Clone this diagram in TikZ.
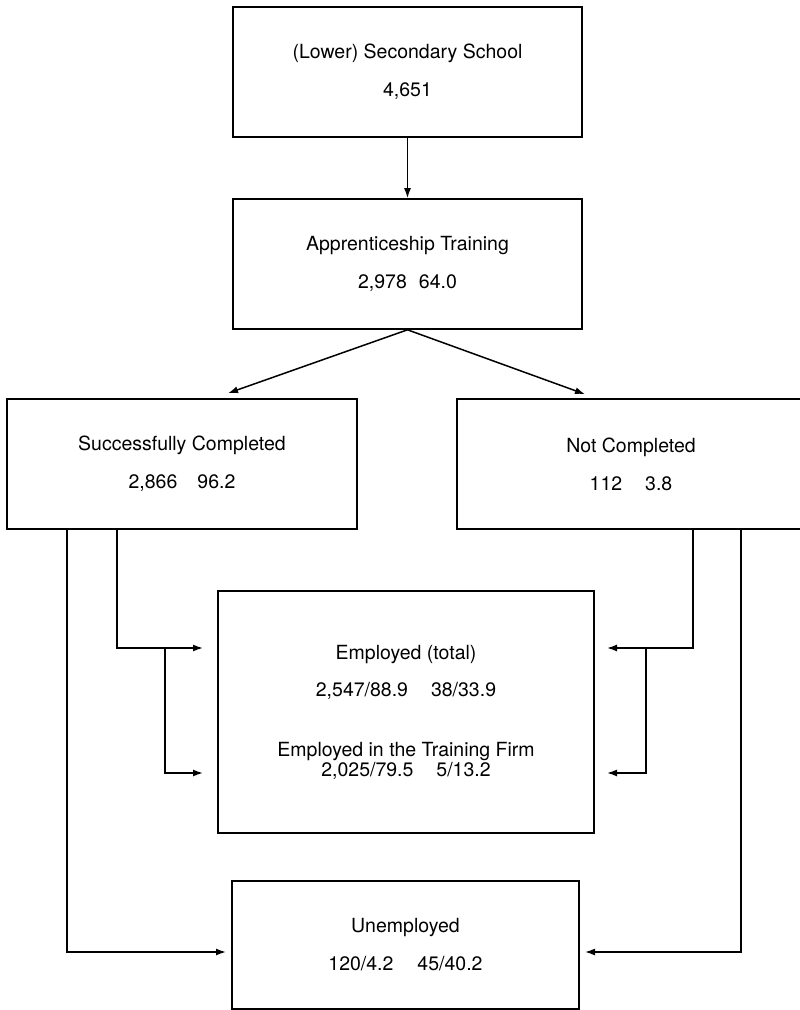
\documentclass[tikz,border=0pt]{standalone}
\usepackage{fontspec}
\setmainfont{TeX Gyre Heros}
\usetikzlibrary{arrows.meta}

\begin{document}
\begin{tikzpicture}[
  x=1pt,
  y=-1pt,
  every node/.style={font=\fontsize{19.5}{20}\selectfont},
  stagebox/.style={draw, line width=1.6pt, align=center, inner sep=0pt},
  flow/.style={line width=1.5pt, -{Latex[length=10pt,width=7pt]}},
  feed/.style={line width=1.5pt}
]
  \useasboundingbox (0,0) rectangle (800,1010);

  % ---- the stages ------------------------------------------------------
  \node[stagebox, minimum width=349pt, minimum height=130pt] (school)
    at (407.5,72) {(Lower) Secondary School\\[18pt]4,651};
  \node[stagebox, minimum width=349pt, minimum height=130pt] (training)
    at (407.5,264) {Apprenticeship Training\\[18pt]2,978\hspace{12pt}64.0};
  \node[stagebox, minimum width=350pt, minimum height=130pt] (done)
    at (182,464) {Successfully Completed\\[18pt]2,866\hspace{20pt}96.2};
  \node[stagebox, minimum width=348pt, minimum height=130pt] (drop)
    at (631,464) {Not Completed\\[18pt]112\hspace{23pt}3.8};
  \node[stagebox, minimum width=376pt, minimum height=242pt] (employed)
    at (406,712) {Employed (total)\\[17pt]2,547/88.9\hspace{23pt}38/33.9\\[40pt]
                  Employed in the Training Firm\\2,025/79.5\hspace{23pt}5/13.2};
  \node[stagebox, minimum width=347pt, minimum height=128pt] (unemployed)
    at (405.5,945) {Unemployed\\[18pt]120/4.2\hspace{24pt}45/40.2};

  % ---- arrow ends and branch points ------------------------------------
  \coordinate (emp-l1) at (203,648);
  \coordinate (emp-l2) at (203,773);
  \coordinate (emp-r1) at (607,648);
  \coordinate (emp-r2) at (607,773);
  \coordinate (split-l) at (165,648);
  \coordinate (split-r) at (646,648);
  \coordinate (unemp-l) at (226,952);
  \coordinate (unemp-r) at (585,952);

  % ---- top of the chart --------------------------------------------------
  \draw[flow] (school.south) -- (training.north);
  \draw[flow] (training.south) -- ([xshift=46pt,yshift=5pt]done.north);
  \draw[flow] (training.south) -- ([xshift=-46pt,yshift=4pt]drop.north);

  % ---- completed, left side ----------------------------------------------
  \draw[flow] ([xshift=111pt]done.south west) |- (emp-l1);
  \draw[flow] (split-l) |- (emp-l2);
  \draw[flow] ([xshift=61pt]done.south west) |- (unemp-l);

  % ---- not completed, right side -----------------------------------------
  \draw[flow] ([xshift=237pt]drop.south west) |- (emp-r1);
  \draw[flow] (split-r) |- (emp-r2);
  \draw[flow] ([xshift=285pt]drop.south west) |- (unemp-r);
\end{tikzpicture}
\end{document}
